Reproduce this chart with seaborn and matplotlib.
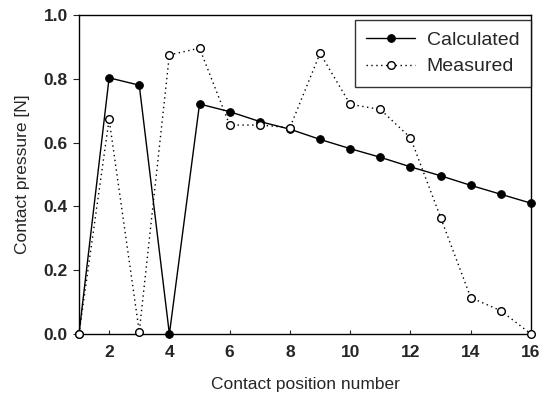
import matplotlib
matplotlib.use("Agg")
import matplotlib.pyplot as plt
import seaborn as sns
import pandas as pd

positions = list(range(1, 17))
calculated = [0.0, 0.803, 0.78, 0.0, 0.721, 0.697, 0.666, 0.642, 0.610, 0.581,
              0.554, 0.524, 0.496, 0.466, 0.438, 0.41]
measured = [0.0, 0.673, 0.007, 0.875, 0.896, 0.655, 0.655, 0.647, 0.88, 0.72,
            0.704, 0.615, 0.365, 0.114, 0.073, 0.0]
x_ticks = [2, 4, 6, 8, 10, 12, 14, 16]
y_ticks = [0.0, 0.2, 0.4, 0.6, 0.8, 1.0]

sns.set_style("ticks")
plt.rcParams['font.family'] = ['Liberation Sans', 'DejaVu Sans']

df_c = pd.DataFrame({"pos": positions, "val": calculated})
df_m = pd.DataFrame({"pos": positions, "val": measured})

fig = plt.figure(figsize=(5.5, 4.03), dpi=100)
ax = fig.add_axes([0.1436, 0.1712, 0.8219, 0.7916])

sns.lineplot(data=df_c, x="pos", y="val", ax=ax, color="black", linewidth=1.0,
             marker="o", markersize=5.5, markerfacecolor="black",
             markeredgecolor="black", label="Calculated", clip_on=False, zorder=3)
sns.lineplot(data=df_m, x="pos", y="val", ax=ax, color="black", linewidth=1.0,
             linestyle=(0, (1, 2.5)), marker="o", markersize=5.5,
             markerfacecolor="white", markeredgecolor="black",
             markeredgewidth=1.0, label="Measured", clip_on=False, zorder=4)

ax.set_xlim(1, 16)
ax.set_ylim(0, 1.0)
ax.set_xticks(x_ticks)
ax.set_yticks(y_ticks)
ax.set_yticklabels([f"{v:.1f}" for v in y_ticks])
ax.tick_params(axis="x", direction="in", length=3, width=0.8, pad=8,
               labelsize=12.5)
ax.tick_params(axis="y", direction="out", length=4, width=0.8, pad=4,
               labelsize=12.5)
for lbl in ax.get_xticklabels() + ax.get_yticklabels():
    lbl.set_fontweight("bold")
for sp in ax.spines.values():
    sp.set_visible(True)
    sp.set_linewidth(1.0)
    sp.set_color("black")

ax.set_xlabel("Contact position number", fontsize=12.5, labelpad=12)
ax.set_ylabel("Contact pressure [N]", fontsize=12.5, labelpad=10)

leg = ax.legend(loc="upper right", bbox_to_anchor=(1.0, 0.985),
                borderaxespad=0, fontsize=14, frameon=True, fancybox=False,
                handlelength=2.5, handletextpad=0.6, borderpad=0.6,
                labelspacing=0.45)
leg.get_frame().set_edgecolor("black")
leg.get_frame().set_linewidth(1.0)

fig.savefig("out.png", dpi=100)
